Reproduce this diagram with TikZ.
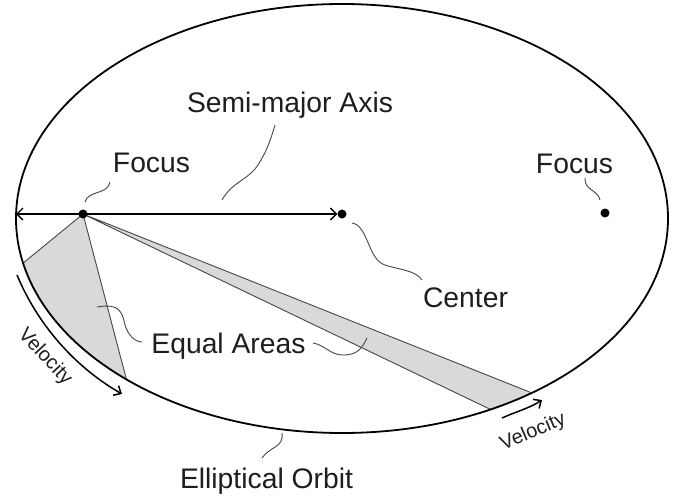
\documentclass[tikz,border=0pt]{standalone}
\usepackage{fontspec}
\setmainfont{Liberation Sans}
\usetikzlibrary{arrows.meta}
\definecolor{shade}{RGB}{217,217,217}
\definecolor{ink}{RGB}{30,30,30}
\definecolor{leadc}{RGB}{70,70,70}
\begin{document}
\begin{tikzpicture}[x=1pt,y=-1pt,
  lbl/.style={font=\fontsize{28.3}{32}\selectfont, text=ink, inner sep=0pt, anchor=base},
  vlbl/.style={font=\fontsize{20}{22}\selectfont, text=ink, inner sep=0pt},
  dot/.style={circle, fill=black, inner sep=0pt, minimum size=9pt},
  leader/.style={draw=leadc, line width=0.9pt},
  orbit/.style={draw=black, line width=1.8pt},
  area/.style={fill=shade, draw=leadc, line width=0.9pt},
  tip/.style={-{Straight Barb[length=6pt,width=11pt]}},
]
\useasboundingbox (0,0) rectangle (676,495);
% shaded equal areas
\coordinate (fLc) at (83,214);
\filldraw[area] (fLc) -- plot[domain=168:131.4,samples=40] ({342+326*cos(\x)},{218.5+214.5*sin(\x)}) -- cycle;
\filldraw[area] (fLc) -- plot[domain=54.4:62.9,samples=20] ({342+326*cos(\x)},{218.5+214.5*sin(\x)}) -- cycle;
% orbit
\draw[orbit] (342,218.5) ellipse [x radius=326pt, y radius=214.5pt];
% dots
\node[dot] (fL) at (83,214) {};
\node[dot] (ctr) at (342,214) {};
\node[dot] (fR) at (605,213) {};
% semi-major axis
\coordinate (rim) at (16,214);
\draw[line width=1.4pt, {Straight Barb[length=6pt,width=12pt]}-{Straight Barb[length=6pt,width=12pt]}] (rim) -- (ctr);
% labels
\node[lbl] (tSemi) at (290,112) {Semi-major Axis};
\node[lbl] (tFocL) at (151.5,172) {Focus};
\node[lbl] (tFocR) at (574.5,173) {Focus};
\node[lbl] (tCtr) at (465.5,307) {Center};
\node[lbl] (tEq) at (228.5,353) {Equal Areas};
\node[lbl] (tOrb) at (266.5,488) {Elliptical Orbit};
\node[vlbl, rotate=-47] (tVelL) at (45,357) {Velocity};
\node[vlbl, rotate=23] (tVelR) at (533,432) {Velocity};
% leaders
\coordinate (lSemiA) at (275,125); \coordinate (lSemiB) at (222,200);
\draw[leader] (lSemiA) .. controls (269,145) and (266,152) .. (258,165) .. controls (248,180) and (232,182) .. (lSemiB);
\coordinate (lFocLA) at (110,182); \coordinate (lFocLB) at (85,202);
\draw[leader] (lFocLA) .. controls (108,195) and (88,190) .. (lFocLB);
\coordinate (lFocRA) at (585,178); \coordinate (lFocRB) at (600,200);
\draw[leader] (lFocRA) .. controls (584,190) and (598,190) .. (lFocRB);
\coordinate (lCtrA) at (352,223); \coordinate (lCtrB) at (422,280);
\draw[leader] (lCtrA) .. controls (368,225) and (368,260) .. (385,265) .. controls (400,270) and (415,270) .. (lCtrB);
\coordinate (lEqA) at (142,342); \coordinate (lEqB) at (97,307);
\draw[leader] (lEqB) .. controls (120,303) and (122,312) .. (125,325) .. controls (128,335) and (135,342) .. (lEqA);
\coordinate (lEqC) at (313,343); \coordinate (lEqD) at (367,338);
\draw[leader] (lEqC) .. controls (325,345) and (330,355) .. (343,355) .. controls (358,355) and (362,348) .. (lEqD);
\coordinate (lOrbA) at (282,433); \coordinate (lOrbB) at (262,458);
\draw[leader] (lOrbA) .. controls (284,448) and (270,446) .. (lOrbB);
% velocity arrows
\coordinate (vL0) at (17,275); \coordinate (vL1) at (122,394);
\draw[line width=1.5pt, tip] (vL0) .. controls (40,330) and (80,370) .. (vL1);
\coordinate (vR0) at (502,418); \coordinate (vR1) at (542,400);
\draw[line width=1.5pt, tip] (vR0) .. controls (515,412) and (530,408) .. (vR1);
\end{tikzpicture}
\end{document}
